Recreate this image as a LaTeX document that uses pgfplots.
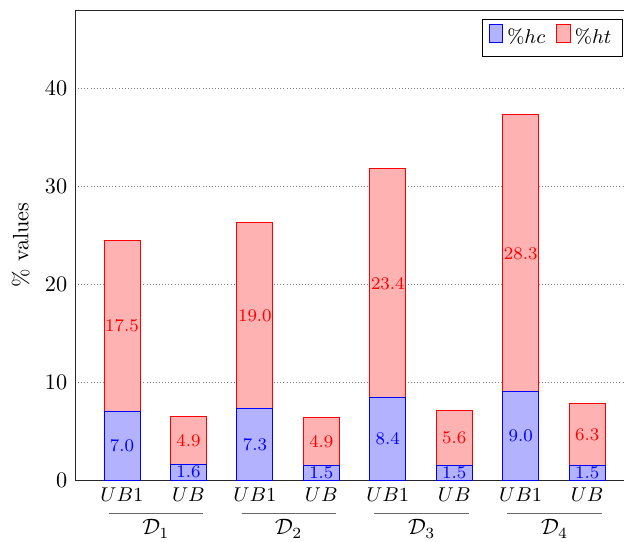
\documentclass[border=0pt]{standalone}
\usepackage{pgfplots}
\pgfplotsset{compat=1.18}
\begin{document}
\begin{tikzpicture}
\begin{axis}[
  scale only axis,
  width=251.6pt, height=211.5pt,
  ybar stacked,
  bar width=16.2pt,
  xmin=-0.707, xmax=7.707,
  ymin=0, ymax=48,
  ytick={0,10,20,30,40},
  xtick={0,...,7},
  xticklabels={$UB1$,$UB$,$UB1$,$UB$,$UB1$,$UB$,$UB1$,$UB$},
  xticklabel style={font=\small},
  major tick length=0pt,
  ymajorgrids,
  grid style={densely dotted, gray},
  axis line style={black!85},
  ylabel={\% values},
  clip=false,
  legend style={legend columns=2, at={(0.98,0.98)}, anchor=north east, font=\small,
    /tikz/every even column/.append style={column sep=3pt}},
  area legend,
  point meta=explicit symbolic,
  nodes near coords={\pgfplotspointmeta},
  every node near coord/.append style={anchor=center, font=\footnotesize},
]
\addplot+[ybar stacked, draw=blue, fill=blue!30, every node near coord/.append style={text=blue}] coordinates {
  (0,7.0)[7.0] (1,1.6)[1.6] (2,7.3)[7.3] (3,1.5)[1.5]
  (4,8.4)[8.4] (5,1.5)[1.5] (6,9.0)[9.0] (7,1.5)[1.5]};
\addplot+[ybar stacked, draw=red, fill=red!30, every node near coord/.append style={text=red}] coordinates {
  (0,17.5)[17.5] (1,4.9)[4.9] (2,19.0)[19.0] (3,4.9)[4.9]
  (4,23.4)[23.4] (5,5.6)[5.6] (6,28.3)[28.3] (7,6.3)[6.3]};
\legend{$\%hc$,$\%ht$}
\foreach \g/\lab in {0/1,2/2,4/3,6/4}{
  \edef\tmp{\noexpand\draw[black!60] ([yshift=-14.85pt]axis cs:\g-0.2,0) -- ([yshift=-14.85pt]axis cs:\g+1.22,0);
  \noexpand\node at ([yshift=-22pt]axis cs:\g+0.51,0) {$\noexpand\mathcal{D}_{\lab}$};}
  \tmp
}
\end{axis}
\pgfresetboundingbox
\useasboundingbox (-33.75pt,-27.45pt) rectangle (247.05pt,216pt);
\end{tikzpicture}
\end{document}
